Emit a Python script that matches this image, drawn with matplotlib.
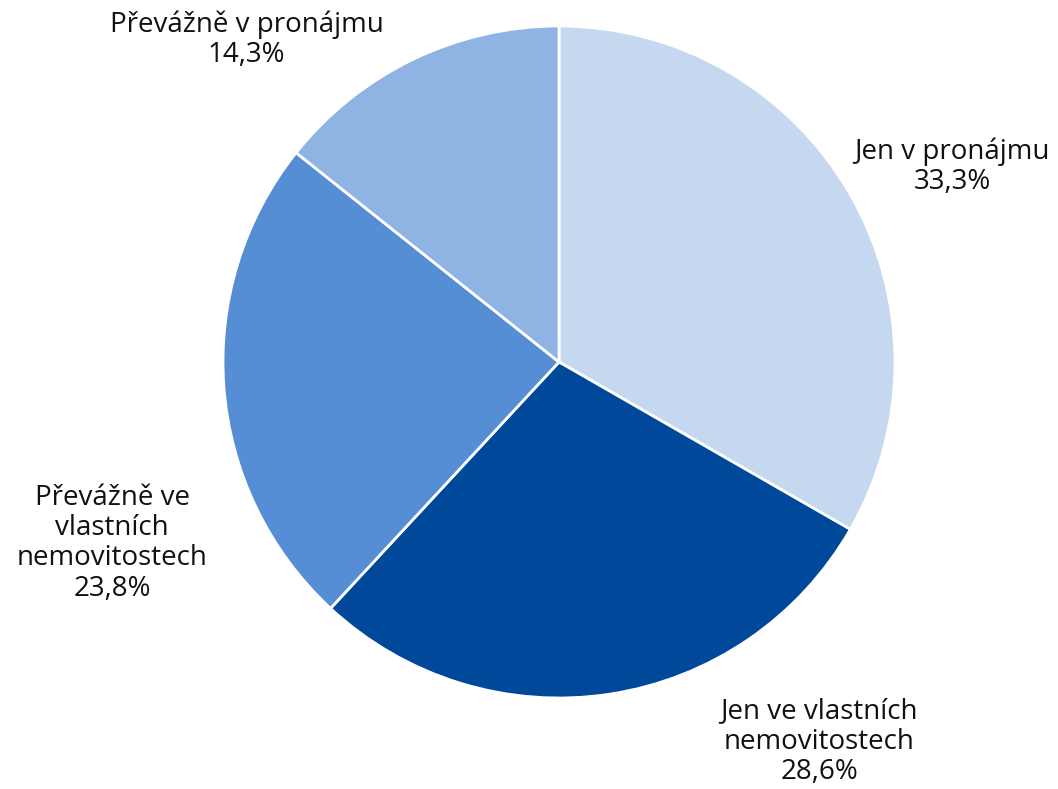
import numpy as np
import matplotlib.pyplot as plt

plt.rcParams['font.family'] = ['Open Sans', 'DejaVu Sans']

labels = ['Jen v pronájmu', 'Jen ve vlastních\nnemovitostech',
          'Převážně ve\nvlastních\nnemovitostech', 'Převážně v pronájmu']
values = [33.3, 28.6, 23.8, 14.3]
colors = ['#C5D8F0', '#00489A', '#558ED5', '#8FB3E2']
# label centres in pie-radius units (relative to pie centre)
label_pos = [(1.17, 0.58), (0.774, -1.13), (-1.33, -0.54), (-0.93, 0.96)]

fig = plt.figure(figsize=(10.58, 7.89), dpi=100)
cx, cy = 559 / 1058, 1 - 362 / 789
rw, rh = 336 / 1058, 336 / 789
ax = fig.add_axes([cx - rw, cy - rh, 2 * rw, 2 * rh])

wedges, _ = ax.pie(values, colors=colors, startangle=90, counterclock=False,
                   radius=1, wedgeprops=dict(edgecolor='white', linewidth=2))
ax.set_xlim(-1, 1)
ax.set_ylim(-1, 1)
ax.set_aspect('equal')
ax.axis('off')

for lab, val, (x, y) in zip(labels, values, label_pos):
    txt = f'{lab}\n{val:.1f}%'.replace('.', ',')
    ax.text(x, y, txt, ha='center', va='center', fontsize=20,
            color='#111111', linespacing=1.1, clip_on=False)

plt.savefig('out.png', dpi=100)
